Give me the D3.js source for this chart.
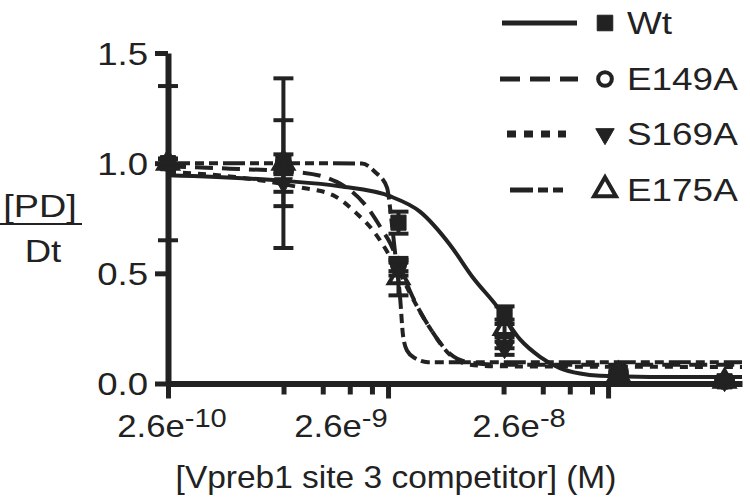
<!DOCTYPE html>
<html>
<head>
<meta charset="utf-8">
<script src="https://cdn.jsdelivr.net/npm/d3@7"></script>
<style>
  body { margin: 0; background: #fff; }
  svg text { font-family: "Liberation Sans", Arial, Helvetica, sans-serif; fill: #222; }
</style>
</head>
<body>
<svg id="chart"></svg>
<script>
// Competitor concentrations (M) where the points were measured
const concentrations = [2.6e-10, 8.7e-10, 2.9e-9, 8.8e-9, 2.9e-8, 8.8e-8];

// Mean [PD]/Dt and error for each construct
const wtMean = [1.00, 1.00, 0.73, 0.31, 0.05, 0.01];
const wtErr = [0.35, 0.385, 0.05, 0.04, 0.01, 0.01];
const e149aMean = [1.00, 1.00, 0.54, 0.19, 0.03, 0.01];
const e149aErr = [0.02, 0.195, 0.03, 0.03, 0.01, 0.01];
const s169aMean = [1.00, 0.91, 0.52, 0.16, 0.04, 0.01];
const s169aErr = [0.02, 0.04, 0.03, 0.03, 0.01, 0.01];
const e175aMean = [1.00, 1.00, 0.48, 0.25, 0.04, 0.01];
const e175aErr = [0.02, 0.04, 0.08, 0.04, 0.01, 0.01];

// Fitted curves (concentration, value)
const wtFitX = [2.6e-10, 8.67e-10, 1.57e-9, 2.65e-9, 3.63e-9, 4.97e-9, 6.33e-9, 8.13e-9, 1.035e-8, 1.28e-8, 1.57e-8, 1.94e-8, 2.39e-8, 4.04e-8, 1.056e-7];
const wtFitY = [0.945, 0.92, 0.895, 0.85, 0.78, 0.63, 0.48, 0.35, 0.20, 0.12, 0.07, 0.045, 0.035, 0.03, 0.03];
const e149aFitX = [2.6e-10, 4.97e-10, 1.035e-9, 1.52e-9, 2.09e-9, 2.47e-9, 2.65e-9, 2.95e-9, 3.27e-9, 4.04e-9, 4.97e-9, 6.13e-9, 8.39e-9, 1.056e-7];
const e149aFitY = [0.985, 0.975, 0.958, 0.915, 0.80, 0.69, 0.64, 0.53, 0.42, 0.25, 0.135, 0.095, 0.085, 0.085];
const s169aFitX = [2.6e-10, 4.97e-10, 8.67e-10, 1.035e-9, 1.46e-9, 1.88e-9, 2.22e-9, 2.57e-9, 2.71e-9, 2.95e-9, 3.27e-9, 4.04e-9, 4.97e-9, 6.13e-9, 8.39e-9, 1.056e-7];
const s169aFitY = [0.96, 0.94, 0.905, 0.89, 0.855, 0.77, 0.695, 0.60, 0.56, 0.50, 0.41, 0.25, 0.13, 0.085, 0.078, 0.075];
const e175aFitX = [2.6e-10, 8.67e-10, 1.98e-9, 2.27e-9, 2.57e-9, 2.71e-9, 2.83e-9, 2.95e-9, 3.04e-9, 3.17e-9, 3.45e-9, 3.95e-9, 1.056e-7];
const e175aFitY = [1.0, 1.0, 0.998, 0.96, 0.89, 0.72, 0.55, 0.39, 0.22, 0.15, 0.115, 0.097, 0.097];

// Axis ticks
const yTicks = [0, 0.5, 1.0, 1.5];
const xMajorTicks = [2.6e-10, 2.6e-9, 2.6e-8];
const xTickExponents = ['-10', '-9', '-8'];
const xMinorFactors = [3.35, 5.05, 6.7, 8.45];

const seriesNames = ['Wt', 'E149A', 'S169A', 'E175A'];

const width = 750;
const height = 499;
const ink = '#222';

const svg = d3.select('#chart').attr('width', width).attr('height', height);

// Scales
const xScale = d3.scaleLog()
    .domain([2.6e-10, 1.056e-7])
    .range([168, 742]);

const yScale = d3.scaleLinear()
    .domain([0, 1.5])
    .range([383.5, 53]);

// Helper for horizontally stretched text (the original font is wide)
function stretchedText(parent, txt, x, y, anchor, size, sx) {
    return parent.append('text')
        .attr('transform', `translate(${x},${y}) scale(${sx},1)`)
        .attr('text-anchor', anchor)
        .attr('font-size', size)
        .text(txt);
}

// Minor ticks (first two decades only, like the original)
let minorTicks = [];
xMajorTicks.slice(0, 2).forEach(t => {
    xMinorFactors.forEach(f => minorTicks.push(t * f));
});

svg.append('g')
    .attr('transform', `translate(0, ${yScale(0)})`)
    .call(d3.axisBottom(xScale).tickValues(minorTicks).tickFormat('').tickSize(11).tickSizeOuter(0))
    .call(g => g.select('.domain').remove())
    .call(g => g.selectAll('line').attr('stroke', ink).attr('stroke-width', 5));

// X axis with major ticks
svg.append('g')
    .attr('transform', `translate(0, ${yScale(0)})`)
    .call(d3.axisBottom(xScale).tickValues(xMajorTicks).tickFormat('').tickSize(15).tickSizeOuter(0))
    .call(g => g.select('.domain').attr('stroke', ink).attr('stroke-width', 6))
    .call(g => g.selectAll('line').attr('stroke', ink).attr('stroke-width', 5));

// X tick labels: 2.6e with superscript exponent (shifted like the original)
const labelShift = [4, -47, -89];
xMajorTicks.forEach((t, i) => {
    let tx = svg.append('text')
        .attr('transform', `translate(${xScale(t) + labelShift[i]}, 437) scale(1.12,1)`)
        .attr('text-anchor', 'middle')
        .attr('font-size', 31);
    tx.append('tspan').text('2.6e');
    tx.append('tspan').attr('font-size', 26).attr('dy', -10).text(xTickExponents[i]);
});

// Y axis
svg.append('g')
    .attr('transform', `translate(${xScale(2.6e-10)}, 0)`)
    .call(d3.axisLeft(yScale).tickValues(yTicks).tickFormat(d3.format('.1f')).tickSize(13).tickSizeOuter(0))
    .call(g => g.select('.domain').attr('stroke', ink).attr('stroke-width', 6))
    .call(g => g.selectAll('line').attr('stroke', ink).attr('stroke-width', 5))
    .call(g => g.selectAll('text')
        .attr('font-size', 31)
        .attr('fill', ink)
        .attr('x', null)
        .attr('dy', null)
        .attr('transform', 'translate(-20, 11) scale(1.18,1)'));

// Axis titles
stretchedText(svg, '[Vpreb1 site 3 competitor] (M)', 396, 488, 'middle', 31, 1.08);
stretchedText(svg, '[PD]', 40, 217, 'middle', 31, 1.22);
stretchedText(svg, 'Dt', 43, 262, 'middle', 31, 1.18);
svg.append('line')
    .attr('x1', 0).attr('x2', 82)
    .attr('y1', 224).attr('y2', 224)
    .attr('stroke', ink).attr('stroke-width', 2);

// Line styles and markers for each construct
const dashes = {
    'Wt': null,
    'E149A': '18,9',
    'S169A': '8,7',
    'E175A': '22,5,9,5,9,5'
};

const markers = {
    'Wt': { type: d3.symbolSquare, size: 230, fill: ink, rotate: 0 },
    'E149A': { type: d3.symbolCircle, size: 140, fill: 'none', rotate: 0 },
    'S169A': { type: d3.symbolTriangle, size: 140, fill: ink, rotate: 180 },
    'E175A': { type: d3.symbolTriangle, size: 160, fill: 'none', rotate: 0 }
};

const fits = {
    'Wt': [wtFitX, wtFitY],
    'E149A': [e149aFitX, e149aFitY],
    'S169A': [s169aFitX, s169aFitY],
    'E175A': [e175aFitX, e175aFitY]
};

const points = {
    'Wt': [wtMean, wtErr],
    'E149A': [e149aMean, e149aErr],
    'S169A': [s169aMean, s169aErr],
    'E175A': [e175aMean, e175aErr]
};

const line = d3.line()
    .x(d => xScale(d[0]))
    .y(d => yScale(d[1]))
    .curve(d3.curveMonotoneX);

// Fitted curves
seriesNames.forEach(name => {
    let [xs, ys] = fits[name];
    svg.append('path')
        .datum(xs.map((x, i) => [x, ys[i]]))
        .attr('fill', 'none')
        .attr('stroke', ink)
        .attr('stroke-width', 4)
        .attr('stroke-dasharray', dashes[name])
        .attr('d', line);
});

function drawMarker(parent, name, x, y, scale) {
    let m = markers[name];
    parent.append('path')
        .attr('d', d3.symbol().type(m.type).size(m.size * scale)())
        .attr('transform', `translate(${x},${y}) rotate(${m.rotate})`)
        .attr('fill', m.fill)
        .attr('stroke', ink)
        .attr('stroke-width', m.fill === 'none' ? 4 : 1);
}

// Error bars and markers
seriesNames.forEach(name => {
    let [means, errs] = points[name];
    let g = svg.append('g');
    concentrations.forEach((c, i) => {
        let x = xScale(c);
        let top = yScale(means[i] + errs[i]);
        let bot = yScale(means[i] - errs[i]);
        g.append('line').attr('x1', x).attr('x2', x).attr('y1', top).attr('y2', bot)
            .attr('stroke', ink).attr('stroke-width', 4);
        [top, bot].forEach(yy => {
            g.append('line').attr('x1', x - 10).attr('x2', x + 10).attr('y1', yy).attr('y2', yy)
                .attr('stroke', ink).attr('stroke-width', 4);
        });
    });
    concentrations.forEach((c, i) => {
        drawMarker(g, name, xScale(c), yScale(means[i]), 1);
    });
});

// Legend
const legendRows = [23, 79, 134, 190];
const legendLine = {
    'Wt': [502, 577, 5],
    'E149A': [500, 578, 5],
    'S169A': [507, 566, 7],
    'E175A': [510, 565, 5]
};
seriesNames.forEach((name, i) => {
    let y = legendRows[i];
    let [x1, x2, w] = legendLine[name];
    svg.append('line')
        .attr('x1', x1).attr('x2', x2).attr('y1', y).attr('y2', y)
        .attr('stroke', ink).attr('stroke-width', w)
        .attr('stroke-dasharray', name === 'S169A' ? '9,8' : name === 'E149A' ? '20,10' : name === 'E175A' ? '23,5,10,5,10,5' : null);
    drawMarker(svg, name, 605, y, name === 'E175A' ? 1.3 : 1.05);
    stretchedText(svg, name, 627, y + 11, 'start', 31, 1.19);
});
</script>
</body>
</html>
